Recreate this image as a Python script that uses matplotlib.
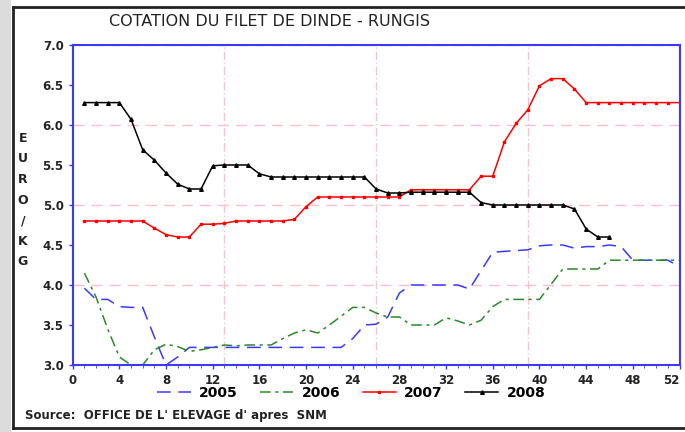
import numpy as np
import matplotlib
matplotlib.use('Agg')
import matplotlib.pyplot as plt
from matplotlib.patches import Rectangle
from matplotlib.lines import Line2D

# weekly quotes, euro/kg
weeks = list(range(1, 53))
y2005 = [3.96, 3.82, 3.82, 3.73, 3.72, 3.72, 3.35, 3.00, 3.10, 3.22,
         3.22, 3.22, 3.22, 3.22, 3.22, 3.22, 3.22, 3.22, 3.22, 3.22,
         3.22, 3.22, 3.22, 3.33, 3.50, 3.51, 3.60, 3.90, 4.00, 4.00,
         4.00, 4.00, 4.00, 3.95, 4.18, 4.41, 4.42, 4.43, 4.44, 4.49,
         4.50, 4.50, 4.46, 4.48, 4.48, 4.50, 4.48, 4.31, 4.31, 4.31,
         4.31, 4.23]
y2006 = [4.15, 3.85, 3.45, 3.10, 3.00, 3.00, 3.19, 3.26, 3.23, 3.17,
         3.19, 3.22, 3.25, 3.24, 3.25, 3.25, 3.25, 3.33, 3.40, 3.44,
         3.40, 3.50, 3.61, 3.72, 3.72, 3.65, 3.60, 3.60, 3.50, 3.50,
         3.50, 3.59, 3.55, 3.50, 3.56, 3.73, 3.82, 3.82, 3.82, 3.82,
         4.01, 4.20, 4.20, 4.20, 4.20, 4.31, 4.31, 4.31, 4.31, 4.31,
         4.31, 4.31]
y2007 = [4.80, 4.80, 4.80, 4.80, 4.80, 4.80, 4.71, 4.63, 4.60, 4.60,
         4.76, 4.76, 4.77, 4.80, 4.80, 4.80, 4.80, 4.80, 4.82, 4.98,
         5.10, 5.10, 5.10, 5.10, 5.10, 5.10, 5.10, 5.10, 5.19, 5.19,
         5.19, 5.19, 5.19, 5.19, 5.36, 5.36, 5.79, 6.02, 6.19, 6.49,
         6.58, 6.58, 6.45, 6.28, 6.28, 6.28, 6.28, 6.28, 6.28, 6.28,
         6.28, 6.28]
weeks08 = list(range(1, 47))
y2008 = [6.28, 6.28, 6.28, 6.28, 6.07, 5.69, 5.56, 5.40, 5.26, 5.20,
         5.20, 5.49, 5.50, 5.50, 5.50, 5.39, 5.35, 5.35, 5.35, 5.35,
         5.35, 5.35, 5.35, 5.35, 5.35, 5.20, 5.15, 5.15, 5.16, 5.16,
         5.16, 5.16, 5.16, 5.16, 5.03, 5.00, 5.00, 5.00, 5.00, 5.00,
         5.00, 5.00, 4.95, 4.70, 4.60, 4.60]

years = ['2005', '2006', '2007', '2008']

fig = plt.figure(figsize=(6.85, 4.32), dpi=100)
W, H = 685, 432

# page frame: gray strip on the left and black box
fig.add_artist(Rectangle((0, 0), 11 / W, 1, transform=fig.transFigure,
                         facecolor='#dcdcdc', edgecolor='none'))
fig.add_artist(Line2D([13 / W, 13 / W], [1 - 428 / H, 1 - 7 / H], transform=fig.transFigure,
                      color='#222222', lw=2))
fig.add_artist(Line2D([13 / W, 1], [1 - 7 / H, 1 - 7 / H], transform=fig.transFigure,
                      color='#222222', lw=2))
fig.add_artist(Line2D([13 / W, 1], [1 - 428 / H, 1 - 428 / H], transform=fig.transFigure,
                      color='#222222', lw=2))

ax = fig.add_axes([72.7 / W, 1 - 365 / H, (679.5 - 72.7) / W, 320 / H])

blue = '#3a3aff'
l05, = ax.plot(weeks, y2005, color=blue, lw=1.1, dashes=(9, 5))
l06, = ax.plot(weeks, y2006, color='#2a8a2a', lw=1.1, dashes=(7, 3, 2, 3))
l07, = ax.plot(weeks, y2007, color='red', lw=1.1, marker='s', ms=1.8)
l08, = ax.plot(weeks08, y2008, color='black', lw=1.1, marker='^', ms=2.6)

ax.set_xlim(0, 52)
ax.set_ylim(3.0, 7.0)
for v in [3.0, 4.0, 5.0, 6.0, 7.0]:
    ax.axhline(v, color='#ffc0cb', lw=1, dashes=(8, 5), zorder=0)
for v in [13, 26, 39, 52]:
    ax.axvline(v, color='#ffc0cb', lw=1, dashes=(6, 2, 1, 2), zorder=0)

ax.set_xticks(np.arange(0, 53, 4))
ax.set_xticks(np.arange(0, 53, 1), minor=True)
ax.set_yticks(np.arange(3.0, 7.01, 0.5))
ax.set_yticklabels(['%.1f' % v for v in np.arange(3.0, 7.01, 0.5)])
ax.tick_params(axis='both', colors=blue, labelcolor='#222222', labelsize=8.5,
               direction='out', length=3, width=1)
ax.tick_params(axis='x', which='minor', colors=blue, length=2)
for lab in ax.get_xticklabels() + ax.get_yticklabels():
    lab.set_fontweight('bold')
ax.get_xticklabels()[-1].set_horizontalalignment('right')
for s in ax.spines.values():
    s.set_color(blue)
    s.set_linewidth(1.5)

fig.text(0.5 * (107 + 432) / W, 1 - 22 / H, 'COTATION DU FILET DE DINDE - RUNGIS',
         ha='center', va='center', fontsize=11.5, color='#222222')
fig.text(23 / W, 1 - 200 / H, '\n'.join('EURO/KG'), ha='center', va='center',
         fontsize=9, fontweight='bold', color='#222222', linespacing=1.75)

fig.legend([l05, l06, l07, l08], years, loc='center', ncol=4,
           bbox_to_anchor=(0.5 * (165 + 538) / W, 1 - 393 / H), frameon=False,
           handlelength=2.4, columnspacing=1.6, handletextpad=0.6,
           prop={'size': 10, 'weight': 'bold'})

fig.text(25 / W, 1 - 416 / H, "Source:  OFFICE DE L' ELEVAGE d' apres  SNM",
         ha='left', va='center', fontsize=8.5, fontweight='bold', color='#222222')

fig.savefig('out.png', dpi=100)
